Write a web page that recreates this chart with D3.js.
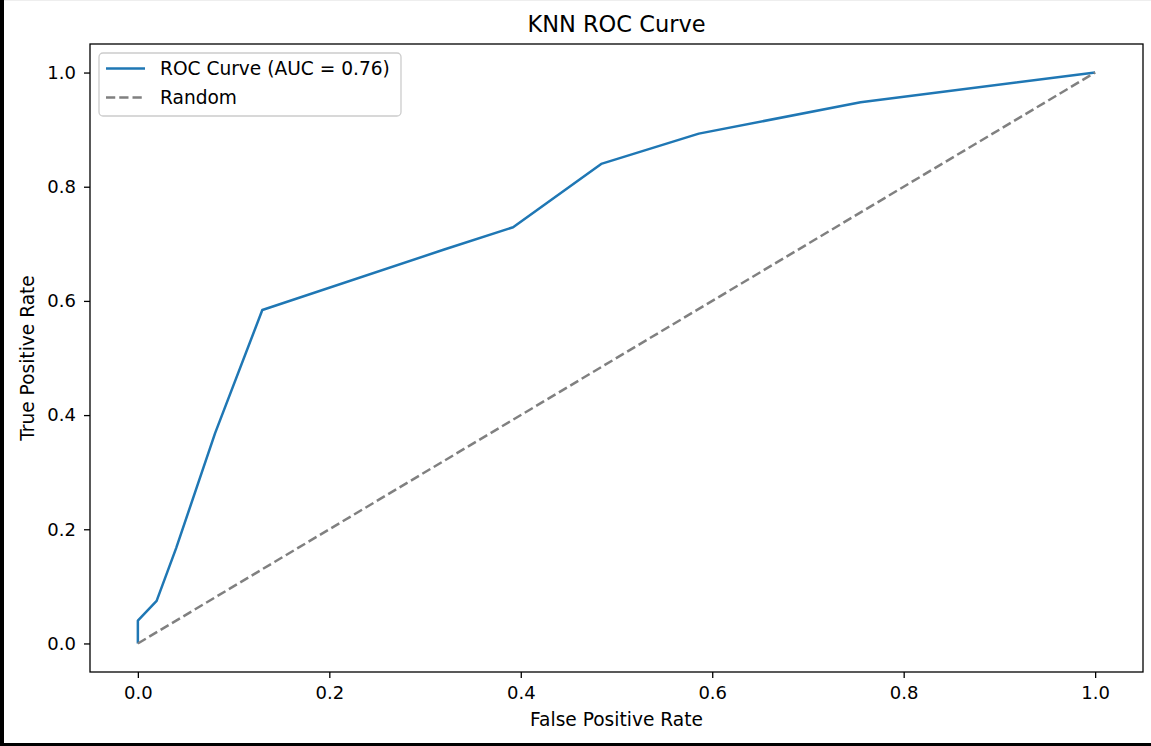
<!DOCTYPE html>
<html>
<head>
<meta charset="utf-8">
<script src="https://cdn.jsdelivr.net/npm/d3@7"></script>
<style>
  html, body { margin: 0; padding: 0; background: #fff; }
  svg { display: block; }
  text { font-family: "DejaVu Sans", sans-serif; fill: #000; }
</style>
</head>
<body>
<svg id="chart" width="1151" height="746"></svg>
<script>
// ---- Data ----
const fpr = [0, 0, 0.0196, 0.04, 0.0806, 0.130, 0.32, 0.392, 0.484, 0.586, 0.755, 1.0];
const tpr = [0, 0.040, 0.0745, 0.167, 0.368, 0.584, 0.690, 0.729, 0.840, 0.893, 0.948, 1.0];
const randomX = [0, 1];
const randomY = [0, 1];
const xTicks = [0.0, 0.2, 0.4, 0.6, 0.8, 1.0];
const yTicks = [0.0, 0.2, 0.4, 0.6, 0.8, 1.0];
const legendLabels = ["ROC Curve (AUC = 0.76)", "Random"];
const titleText = "KNN ROC Curve";
const xLabel = "False Positive Rate";
const yLabel = "True Positive Rate";

(function () {
const svg = d3.select("#chart");
const W = 1151, H = 746;
const mL = 90, mR = 1143, mT = 44, mB = 672;
const tickFont = 18, labelFont = 18.6, titleFont = 22.5;

svg.append("rect").attr("x", 0).attr("y", 0).attr("width", W).attr("height", 1).attr("fill", "#eeeeee");
svg.append("rect").attr("x", 0).attr("y", 0).attr("width", 4).attr("height", H).attr("fill", "#000");
svg.append("rect").attr("x", 0).attr("y", H - 3).attr("width", W).attr("height", 3).attr("fill", "#000");

const x = d3.scaleLinear().domain([-0.05, 1.05]).range([mL, mR]);
const y = d3.scaleLinear().domain([-0.05, 1.05]).range([mB, mT]);

const xAxis = d3.axisBottom(x).tickValues(xTicks).tickFormat(d3.format(".1f")).tickSize(6).tickPadding(8).tickSizeOuter(0);
const yAxis = d3.axisLeft(y).tickValues(yTicks).tickFormat(d3.format(".1f")).tickSize(6).tickPadding(8).tickSizeOuter(0);

const gx = svg.append("g").attr("transform", `translate(0,${mB})`).call(xAxis);
const gy = svg.append("g").attr("transform", `translate(${mL},0)`).call(yAxis);
[gx, gy].forEach(g => {
  g.select(".domain").remove();
  g.selectAll(".tick line").attr("stroke", "#000").attr("stroke-width", 1.3);
  g.selectAll(".tick text").attr("font-family", "DejaVu Sans").attr("font-size", tickFont).attr("fill", "#222");
});

const line = d3.line().x(d => x(d[0])).y(d => y(d[1]));
svg.append("clipPath").attr("id", "clip").append("rect")
  .attr("x", mL).attr("y", mT).attr("width", mR - mL).attr("height", mB - mT);

svg.append("path")
  .datum(fpr.map((v, i) => [v, tpr[i]]))
  .attr("d", line)
  .attr("fill", "none")
  .attr("stroke", "#1f77b4")
  .attr("stroke-width", 2.5)
  .attr("stroke-linejoin", "round")
  .attr("clip-path", "url(#clip)");

svg.append("path")
  .datum(randomX.map((v, i) => [v, randomY[i]]))
  .attr("d", line)
  .attr("fill", "none")
  .attr("stroke", "#808080")
  .attr("stroke-width", 2.5)
  .attr("stroke-dasharray", "9.25,4")
  .attr("clip-path", "url(#clip)");

svg.append("rect")
  .attr("x", mL).attr("y", mT).attr("width", mR - mL).attr("height", mB - mT)
  .attr("fill", "none").attr("stroke", "#000").attr("stroke-width", 1.3);

svg.append("text").attr("x", (mL + mR) / 2).attr("y", 32)
  .attr("text-anchor", "middle").attr("font-size", titleFont).text(titleText);
svg.append("text").attr("x", (mL + mR) / 2).attr("y", 726)
  .attr("text-anchor", "middle").attr("font-size", labelFont).attr("fill", "#222").text(xLabel);
svg.append("text").attr("transform", `translate(34,${(mT + mB) / 2}) rotate(-90)`)
  .attr("text-anchor", "middle").attr("font-size", labelFont).attr("fill", "#222").text(yLabel);

const lg = svg.append("g");
lg.append("rect").attr("x", 99).attr("y", 53).attr("width", 302).attr("height", 63)
  .attr("rx", 4).attr("fill", "#fff").attr("fill-opacity", 0.8)
  .attr("stroke", "#cccccc").attr("stroke-width", 1.3);
const legStyles = [
  { color: "#1f77b4", dash: null },
  { color: "#808080", dash: "9.25,4" }
];
legendLabels.forEach((lab, i) => {
  const cy = 68.5 + i * 29;
  lg.append("line").attr("x1", 106).attr("x2", 145).attr("y1", cy).attr("y2", cy)
    .attr("stroke", legStyles[i].color).attr("stroke-width", 2.5)
    .attr("stroke-dasharray", legStyles[i].dash);
  lg.append("text").attr("x", 160).attr("y", cy + 6.5).attr("font-size", labelFont).attr("fill", "#222").text(lab);
});
})();
</script>
</body>
</html>
